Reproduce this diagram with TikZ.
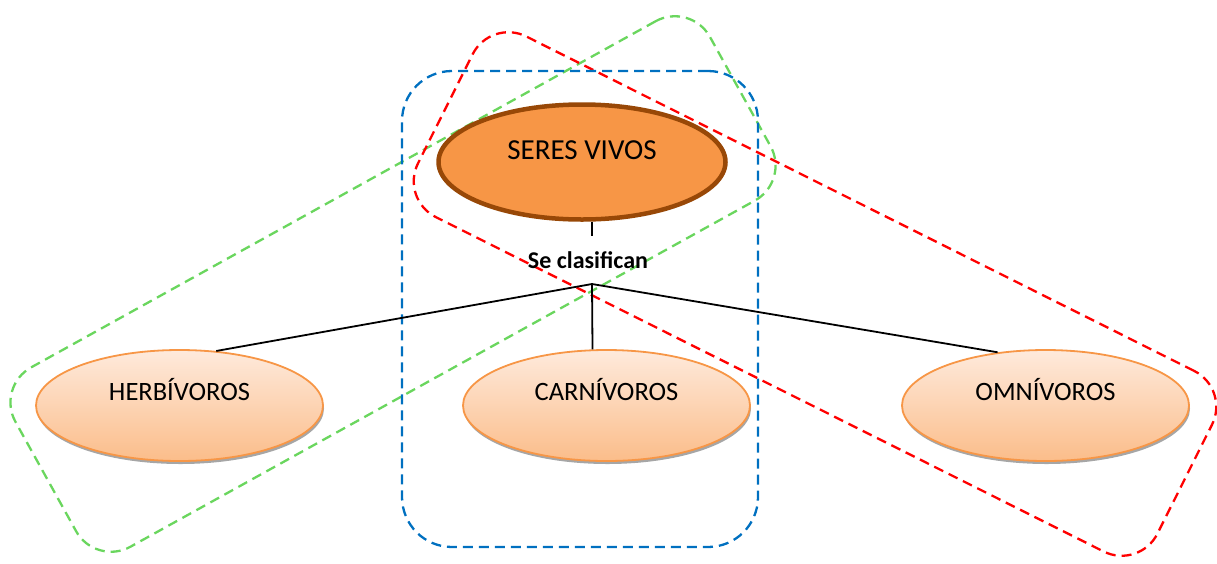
\documentclass[tikz,border=0pt]{standalone}
\usepackage{fontspec}
\setmainfont{Carlito}
\usetikzlibrary{shapes.geometric,shadows}
\definecolor{naranja}{HTML}{F79646}
\definecolor{marron}{HTML}{984807}
\definecolor{claro}{HTML}{FEEADC}
\definecolor{oscuro}{HTML}{FBBD8A}
\definecolor{verde}{HTML}{6AD65E}
\definecolor{rojo}{HTML}{FF0000}
\definecolor{azul}{HTML}{0070C0}
\begin{document}
\begin{tikzpicture}[x=1pt,y=-1pt,
    grupo/.style={draw,rectangle,line width=2.3pt,dash pattern=on 10pt off 6pt,rounded corners=40pt},
    clase/.style={draw=naranja,ellipse,line width=1.8pt,top color=claro,bottom color=oscuro,minimum width=287pt,minimum height=111pt,font=\fontsize{26.5}{30}\selectfont,text height=18pt,text depth=29pt,drop shadow={shadow xshift=1pt,shadow yshift=-3pt,fill=black!35,opacity=1}}]
                \useasboundingbox (0,0) rectangle (1217,563);
                
                \node[grupo,draw=verde,minimum width=794pt,minimum height=205pt,rotate=29] (G) at (393,284) {};
                \node[grupo,draw=rojo,minimum width=827pt,minimum height=202pt,rotate=-26.6] (RJ) at (815,294) {};
                \node[grupo,draw=azul,minimum width=356pt,minimum height=476pt,rounded corners=50pt] (AZ) at (580,309) {};
                
                \node[draw=marron,line width=4.5pt,fill=naranja,ellipse,minimum width=287pt,minimum height=115pt,font=\fontsize{29}{33}\selectfont,text height=20pt,text depth=26pt] (SV) at (582,162) {SERES VIVOS};
                
                \node[font=\fontsize{24}{28}\selectfont\bfseries,text height=18pt,text depth=6pt,inner sep=14pt] (SC) at (588,262) {Se clasifican};
                \coordinate (R) at (592,284);
                
                \node[clase] (H) at (179.5,405.5) {HERBÍVOROS};
                \node[clase] (C) at (606.5,405.5) {CARNÍVOROS};
                \node[clase] (O) at (1045.5,405.5) {OMNÍVOROS};
                
                \draw[line width=2pt] (SV.south -| R) -- (SC.north -| R);
                
                \draw[line width=1.8pt] (R) -- (H.56);
                \draw[line width=1.8pt] (R) -- (C.104);
                \draw[line width=1.8pt] (R) -- (O.132);
            \end{tikzpicture}
\end{document}
